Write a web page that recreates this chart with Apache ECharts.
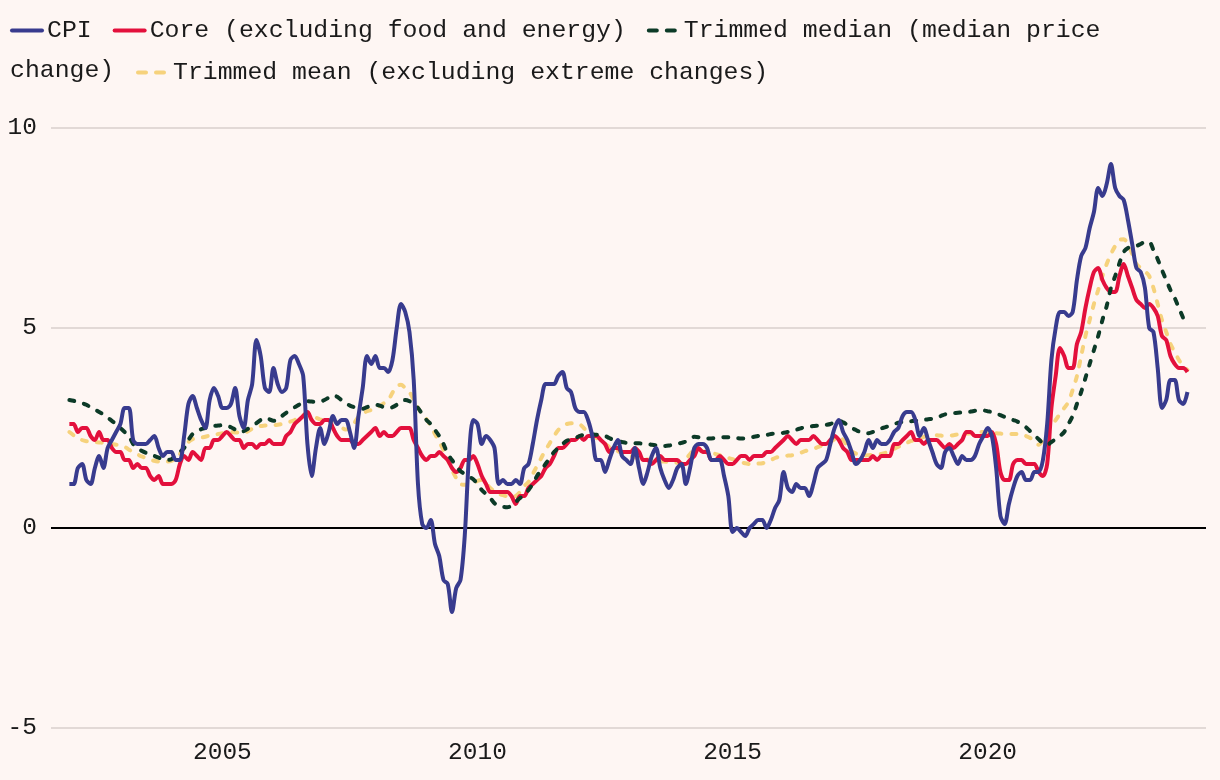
<!DOCTYPE html>
<html>
<head>
<meta charset="utf-8">
<script src="https://cdn.jsdelivr.net/npm/echarts@6/dist/echarts.min.js"></script>
<style>
html,body{margin:0;padding:0;background:#fef6f3;}
#chart{width:1220px;height:780px;}
</style>
</head>
<body>
<div id="chart"></div>
<script>
// Monthly data, Jan 2002 .. Dec 2023 (year-over-year % change)
const startYear = 2002;
const seriesNames = ['CPI', 'Core (excluding food and energy)', 'Trimmed median (median price change)', 'Trimmed mean (excluding extreme changes)'];
const xTickYears = [2005, 2010, 2015, 2020];
const yTicks = [-5, 0, 5, 10];

const cpi = [
 1.1,1.1,1.5,1.6,1.2,1.1,1.5,1.8,1.5,2.0,2.2,2.4,
 2.6,3.0,3.0,2.2,2.1,2.1,2.1,2.2,2.3,2.0,1.8,1.9,
 1.9,1.7,1.7,2.3,3.1,3.3,3.0,2.7,2.5,3.2,3.5,3.3,
 3.0,3.0,3.1,3.5,2.8,2.5,3.2,3.6,4.7,4.3,3.5,3.4,
 4.0,3.6,3.4,3.5,4.2,4.3,4.1,3.8,2.1,1.3,2.0,2.5,
 2.1,2.4,2.8,2.6,2.7,2.7,2.4,2.0,2.8,3.5,4.3,4.1,
 4.3,4.0,4.0,3.9,4.2,5.0,5.6,5.4,4.9,3.7,1.1,0.1,
 0.0,0.2,-0.4,-0.7,-1.3,-1.4,-2.1,-1.5,-1.3,-0.2,1.8,2.7,
 2.6,2.1,2.3,2.2,2.0,1.1,1.2,1.1,1.1,1.2,1.1,1.5,
 1.6,2.1,2.7,3.2,3.6,3.6,3.6,3.8,3.9,3.5,3.4,3.0,
 2.9,2.9,2.7,2.3,1.7,1.7,1.4,1.7,2.0,2.2,1.8,1.7,
 1.6,2.0,1.5,1.1,1.4,1.8,2.0,1.5,1.2,1.0,1.2,1.5,
 1.6,1.1,1.5,2.0,2.1,2.1,2.0,1.7,1.7,1.7,1.3,0.8,
 -0.1,0.0,-0.1,-0.2,0.0,0.1,0.2,0.2,0.0,0.2,0.5,0.7,
 1.4,1.0,0.9,1.1,1.0,1.0,0.8,1.1,1.5,1.6,1.7,2.1,
 2.5,2.7,2.4,2.2,1.9,1.6,1.7,1.9,2.2,2.0,2.2,2.1,
 2.1,2.2,2.4,2.5,2.8,2.9,2.9,2.7,2.3,2.5,2.2,1.9,
 1.6,1.5,1.9,2.0,1.8,1.6,1.8,1.7,1.7,1.8,2.1,2.3,
 2.5,2.3,1.5,0.3,0.1,0.6,1.0,1.3,1.4,1.2,1.2,1.4,
 1.4,1.7,2.6,4.2,5.0,5.4,5.4,5.3,5.4,6.2,6.8,7.0,
 7.5,7.9,8.5,8.3,8.6,9.1,8.5,8.3,8.2,7.7,7.1,6.5,
 6.4,6.0,5.0,4.9,4.0,3.0,3.2,3.7,3.7,3.2,3.1,3.4
];

const core = [
 2.6,2.6,2.4,2.5,2.5,2.3,2.2,2.4,2.2,2.2,2.0,1.9,
 1.9,1.7,1.7,1.5,1.6,1.5,1.5,1.3,1.2,1.3,1.1,1.1,
 1.1,1.2,1.6,1.8,1.7,1.9,1.8,1.7,2.0,2.0,2.2,2.2,
 2.3,2.4,2.3,2.2,2.2,2.0,2.1,2.1,2.0,2.1,2.1,2.2,
 2.1,2.1,2.1,2.3,2.4,2.6,2.7,2.8,2.9,2.7,2.6,2.6,
 2.7,2.7,2.5,2.3,2.2,2.2,2.2,2.1,2.1,2.2,2.3,2.4,
 2.5,2.3,2.4,2.3,2.3,2.4,2.5,2.5,2.5,2.2,2.0,1.8,
 1.7,1.8,1.8,1.9,1.8,1.7,1.5,1.4,1.5,1.7,1.7,1.8,
 1.6,1.3,1.1,0.9,0.9,0.9,0.9,0.9,0.8,0.6,0.8,0.8,
 1.0,1.1,1.2,1.3,1.5,1.6,1.8,2.0,2.0,2.1,2.2,2.2,
 2.3,2.2,2.3,2.3,2.3,2.2,2.1,1.9,2.0,2.0,1.9,1.9,
 1.9,2.0,1.9,1.7,1.7,1.6,1.7,1.8,1.7,1.7,1.7,1.7,
 1.6,1.6,1.7,1.8,2.0,1.9,1.9,1.7,1.7,1.8,1.7,1.6,
 1.6,1.7,1.8,1.8,1.7,1.8,1.8,1.8,1.9,1.9,2.0,2.1,
 2.2,2.3,2.2,2.1,2.2,2.2,2.2,2.3,2.2,2.1,2.1,2.2,
 2.3,2.2,2.0,1.9,1.7,1.7,1.7,1.7,1.7,1.8,1.7,1.8,
 1.8,1.8,2.1,2.1,2.2,2.3,2.4,2.2,2.2,2.1,2.2,2.2,
 2.2,2.1,2.0,2.1,2.0,2.1,2.2,2.4,2.4,2.3,2.3,2.3,
 2.3,2.4,2.1,1.4,1.2,1.2,1.6,1.7,1.7,1.6,1.6,1.6,
 1.4,1.3,1.6,3.0,3.8,4.5,4.3,4.0,4.0,4.6,4.9,5.5,
 6.0,6.4,6.5,6.2,6.0,5.9,5.9,6.3,6.6,6.3,6.0,5.7,
 5.6,5.5,5.6,5.5,5.3,4.8,4.7,4.3,4.1,4.0,4.0,3.9
];

const median = [
 3.2,3.18,3.15,3.12,3.08,3.02,2.96,2.9,2.84,2.76,2.68,2.6,
 2.5,2.4,2.3,2.1,2.0,1.93,1.88,1.84,1.8,1.76,1.72,1.7,
 1.72,1.8,1.9,2.0,2.2,2.35,2.42,2.47,2.5,2.52,2.55,2.56,
 2.57,2.56,2.52,2.46,2.4,2.42,2.48,2.55,2.62,2.7,2.75,2.72,
 2.68,2.7,2.8,2.88,2.95,3.02,3.08,3.15,3.17,3.16,3.15,3.16,
 3.2,3.26,3.32,3.28,3.2,3.12,3.06,3.02,3.0,2.98,3.02,3.06,
 3.08,3.06,3.02,3.0,3.02,3.08,3.16,3.2,3.17,3.1,3.0,2.85,
 2.7,2.6,2.45,2.3,2.1,1.85,1.7,1.55,1.42,1.35,1.28,1.22,
 1.1,0.95,0.85,0.75,0.62,0.56,0.53,0.52,0.55,0.65,0.75,0.82,
 0.95,1.1,1.3,1.45,1.6,1.75,1.9,2.0,2.1,2.18,2.22,2.25,
 2.3,2.33,2.35,2.34,2.33,2.33,2.3,2.25,2.2,2.17,2.15,2.13,
 2.13,2.12,2.12,2.1,2.1,2.08,2.07,2.05,2.05,2.06,2.08,2.1,
 2.13,2.16,2.22,2.28,2.27,2.25,2.24,2.24,2.25,2.26,2.27,2.27,
 2.26,2.25,2.24,2.24,2.26,2.28,2.3,2.33,2.33,2.35,2.36,2.37,
 2.38,2.4,2.43,2.46,2.49,2.52,2.53,2.55,2.56,2.57,2.58,2.6,
 2.65,2.68,2.64,2.58,2.5,2.45,2.4,2.38,2.37,2.4,2.45,2.49,
 2.52,2.56,2.6,2.63,2.65,2.66,2.67,2.68,2.68,2.7,2.72,2.73,
 2.76,2.8,2.84,2.86,2.87,2.88,2.89,2.9,2.91,2.93,2.94,2.94,
 2.92,2.9,2.87,2.82,2.78,2.74,2.7,2.66,2.6,2.52,2.42,2.32,
 2.22,2.12,2.08,2.15,2.22,2.3,2.4,2.6,2.8,3.1,3.4,3.75,
 4.1,4.45,4.8,5.2,5.55,6.0,6.3,6.62,6.9,7.0,7.02,7.05,
 7.1,7.15,7.15,6.95,6.72,6.45,6.2,5.95,5.75,5.5,5.25,5.05
];

const trimmedMean = [
 2.4,2.32,2.26,2.2,2.17,2.16,2.15,2.14,2.13,2.12,2.1,2.08,
 2.07,2.03,1.96,1.9,1.84,1.79,1.75,1.71,1.68,1.66,1.65,1.66,
 1.68,1.72,1.85,2.0,2.15,2.22,2.24,2.26,2.28,2.31,2.33,2.35,
 2.37,2.39,2.4,2.39,2.38,2.37,2.42,2.48,2.53,2.55,2.56,2.57,
 2.57,2.58,2.6,2.63,2.66,2.7,2.76,2.82,2.87,2.83,2.76,2.71,
 2.7,2.7,2.7,2.62,2.52,2.46,2.5,2.62,2.78,2.86,2.92,2.95,
 2.98,3.05,3.12,3.2,3.38,3.55,3.58,3.5,3.4,3.2,3.0,2.85,
 2.72,2.55,2.35,2.15,1.95,1.72,1.45,1.25,1.1,1.08,1.08,1.12,
 1.18,1.2,1.12,1.0,0.92,0.85,0.82,0.79,0.78,0.8,0.9,1.05,
 1.15,1.35,1.55,1.75,1.95,2.12,2.3,2.45,2.55,2.6,2.62,2.62,
 2.6,2.5,2.4,2.32,2.25,2.18,2.1,2.03,1.98,1.92,1.88,1.84,
 1.8,1.77,1.75,1.73,1.71,1.7,1.68,1.67,1.66,1.65,1.64,1.63,
 1.62,1.72,1.85,1.95,1.94,1.92,1.9,1.88,1.85,1.82,1.78,1.75,
 1.72,1.68,1.64,1.62,1.6,1.6,1.61,1.62,1.65,1.7,1.75,1.78,
 1.8,1.81,1.82,1.84,1.88,1.92,1.95,1.98,2.02,2.06,2.1,2.15,
 2.22,2.28,2.2,2.05,1.92,1.86,1.82,1.81,1.82,1.83,1.84,1.85,
 1.88,1.93,1.98,2.03,2.08,2.13,2.18,2.2,2.24,2.28,2.32,2.33,
 2.32,2.31,2.3,2.31,2.32,2.34,2.35,2.36,2.37,2.38,2.4,2.4,
 2.39,2.38,2.37,2.36,2.35,2.35,2.35,2.35,2.33,2.3,2.25,2.18,
 2.08,2.2,2.4,2.55,2.7,2.85,3.0,3.15,3.45,3.8,4.3,4.8,
 5.2,5.6,5.95,6.3,6.6,6.85,7.05,7.2,7.22,7.1,6.85,6.6,
 6.5,6.42,6.3,6.0,5.6,5.2,4.9,4.6,4.4,4.2,4.05,3.95
];

function toPoints(arr) {
  return arr.map((v, i) => [startYear + i / 12, v]);
}

const FONT = 'Liberation Mono';
const FS = 24.8;
const textStyle = { fontFamily: FONT, fontSize: FS, color: '#1a1a1a' };
const colors = { cpi: '#383b8e', core: '#e3103c', median: '#0c3a27', mean: '#f6d27c' };
const hiddenSymbol = { color: 'rgba(0,0,0,0)', borderWidth: 0, borderColor: 'rgba(0,0,0,0)', opacity: 0 };
const solidLegend = { width: 4, cap: 'round' };
const dashLegend = { width: 4, type: [8, 10], cap: 'round' };
const LW = 4;
const plotDash = [5, 10];

const chart = echarts.init(document.getElementById('chart'), null, { renderer: 'canvas' });
chart.setOption({
  animation: false,
  backgroundColor: '#fef6f3',
  graphic: [{
    type: 'text', left: 10, top: 58,
    style: { text: 'change)', font: FS + 'px "' + FONT + '"', fill: '#1a1a1a' }
  }],
  legend: [{
    left: 10, top: 18, padding: 0, itemWidth: 30, itemHeight: 14, itemGap: 21,
    textStyle: textStyle,
    itemStyle: hiddenSymbol,
    lineStyle: solidLegend,
    data: [
      { name: seriesNames[0] },
      { name: seriesNames[1] },
      { name: seriesNames[2], lineStyle: dashLegend }
    ],
    formatter: n => n === seriesNames[2] ? 'Trimmed median (median price' : n
  }, {
    left: 136, top: 60, padding: 0, itemWidth: 30, itemHeight: 14,
    textStyle: textStyle,
    itemStyle: hiddenSymbol,
    lineStyle: dashLegend,
    data: [{ name: seriesNames[3], lineStyle: dashLegend }]
  }],
  grid: { left: 51, right: 14, top: 128, bottom: 52, outerBoundsMode: 'none', containLabel: false },
  xAxis: {
    type: 'value', min: 2001.64, max: 2024.28,
    axisLine: { show: false }, axisTick: { show: false }, splitLine: { show: false },
    axisLabel: { customValues: xTickYears, formatter: v => String(v), margin: 12,
      fontFamily: FONT, fontSize: 24.5, color: '#1a1a1a' }
  },
  yAxis: {
    type: 'value', min: yTicks[0], max: yTicks[yTicks.length - 1], interval: 5,
    axisLine: { show: false }, axisTick: { show: false },
    axisLabel: { margin: 14, fontFamily: FONT, fontSize: 24.5, color: '#1a1a1a' },
    splitLine: { lineStyle: { color: ['#e2d9d6', '#000000', '#e2d9d6', '#e2d9d6'], width: 2 } }
  },
  series: [
    { name: seriesNames[3], type: 'line', data: toPoints(trimmedMean), symbol: 'none', smooth: 0.3,
      lineStyle: { color: colors.mean, width: LW, type: plotDash, cap: 'round' }, itemStyle: { color: colors.mean } },
    { name: seriesNames[1], type: 'line', data: toPoints(core), symbol: 'none', smooth: 0.3,
      lineStyle: { color: colors.core, width: LW }, itemStyle: { color: colors.core } },
    { name: seriesNames[2], type: 'line', data: toPoints(median), symbol: 'none', smooth: 0.3,
      lineStyle: { color: colors.median, width: LW, type: plotDash, cap: 'round' }, itemStyle: { color: colors.median } },
    { name: seriesNames[0], type: 'line', data: toPoints(cpi), symbol: 'none', smooth: 0.3,
      lineStyle: { color: colors.cpi, width: LW }, itemStyle: { color: colors.cpi } }
  ]
});
</script>
</body>
</html>
